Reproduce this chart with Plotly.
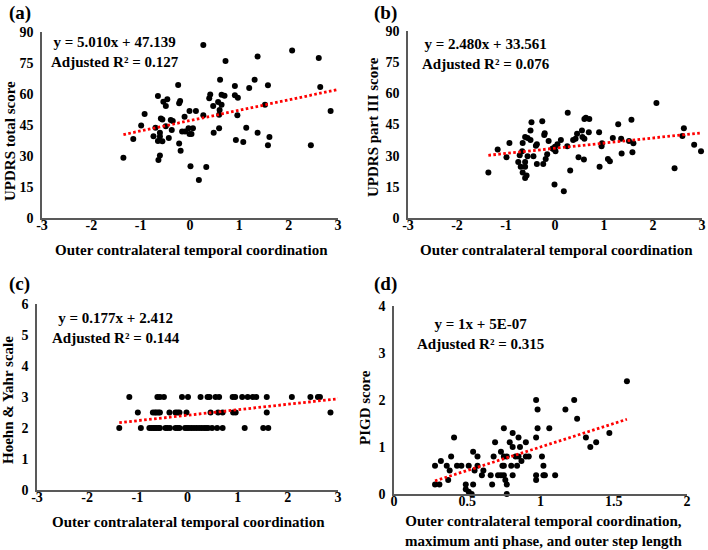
import numpy as np
import plotly.graph_objects as go

W, H = 708, 550
FONT = "Liberation Serif"

# ---------------- data ----------------
# (a) UPDRS total score vs outer contralateral temporal coordination
a_x = [0.27, 2.07, 2.61, 1.37, 0.72, 0.61, 1.31, -0.24, 0.91, 1.20, 1.58, 2.64, 0.41, 0.39, 0.64,
       0.70, 0.91, 0.97, 0.57, 0.64, 0.47, 0.60, 0.59, 1.52, 0.96, 0.27, -0.65, -0.54, -0.46, -0.49,
       -0.22, -0.20, -0.92, -0.59, -0.56, -0.39, -0.35, -0.11, -0.01, 0.12, -0.99, -0.70, -0.49, -0.37,
       -0.16, -0.10, -0.03, 0.06, -0.01, 0.03, -1.15, -0.74, -0.61, -0.61, -0.65, -0.56, -0.43, -0.22,
       -0.19, -1.35, -0.61, -0.64, 0.01, 0.33, 0.18, 0.48, 0.59, 0.93, 1.08, 1.14, 1.37, 1.61, 1.58,
       2.45, 2.85, 3.01]
a_y = [83.7, 81.0, 77.4, 78.1, 76.0, 66.9, 66.9, 64.3, 63.9, 62.9, 64.2, 63.4, 59.8, 57.9, 59.6,
       59.2, 59.4, 58.2, 56.1, 54.8, 54.2, 52.3, 50.0, 54.8, 49.7, 49.7, 59.0, 56.3, 57.4, 54.2,
       55.5, 56.6, 50.3, 48.2, 47.7, 47.4, 46.9, 49.0, 51.8, 51.8, 44.7, 43.7, 44.4, 42.6,
       41.8, 41.8, 43.4, 43.4, 40.6, 40.6, 38.2, 39.5, 41.3, 39.4, 37.3, 37.1, 38.7, 36.0,
       32.6, 29.2, 30.2, 28.1, 25.0, 24.7, 18.4, 41.3, 43.4, 37.7, 36.8, 43.7, 41.3, 39.2, 35.2,
       35.2, 51.8, 45.1]

# (b) UPDRS part III score
b_x = [2.07, 0.26, 0.60, 0.63, 0.70, 1.56, 1.29, -0.48, -0.26, -0.50, -0.61, -0.56, -0.50, -0.37,
       -0.39, -0.22, -0.21, -0.13, 0.12, 0.05, 0.00, -0.03, 0.01, -0.05, 0.25, 0.37, 0.42, 0.45,
       0.55, 0.56, 0.60, 0.69, 0.90, 0.96, 0.95, 1.18, 1.35, 1.51, 1.60, 1.58, 1.36, 1.08, 1.12,
       0.91, 0.48, 0.59, 0.31, -0.01, 0.18, -1.36, -1.17, -0.99, -0.93, -0.75, -0.72, -0.67, -0.70,
       -0.61, -0.61, -0.66, -0.58, -0.61, -0.66, -0.56, -0.44, -0.37, -0.24, -0.19, -0.16, 2.63,
       2.60, 2.84, 2.98, 2.44]
b_y = [55.3, 50.6, 47.7, 48.2, 47.6, 47.3, 45.1, 46.1, 46.6, 42.1, 39.0, 38.5, 37.6, 35.5,
       34.8, 40.0, 40.8, 37.1, 37.6, 35.5, 34.3, 33.2, 32.1, 33.4, 34.5, 37.6, 38.2, 40.5,
       42.1, 39.0, 38.2, 41.3, 41.3, 36.0, 34.5, 38.5, 38.2, 37.1, 36.0, 31.6, 31.0, 28.4, 27.3,
       24.7, 29.2, 28.1, 22.9, 16.1, 12.9, 21.9, 33.0, 29.2, 36.1, 26.9, 30.2, 32.1, 24.7,
       26.9, 24.7, 21.9, 20.5, 19.2, 36.1, 29.7, 29.7, 26.0, 26.0, 28.4, 30.7, 43.2,
       39.5, 35.2, 32.1, 24.0]

# (c) Hoehn & Yahr scale
c_x = [-1.16, -0.60, -0.55, -0.47, -0.11, 0.01, 0.26, 0.40, 0.44, 0.56, 0.63, 0.90, 0.95, 1.09,
       1.20, 1.30, 1.37, 1.58, 2.08, 2.45, 2.60, 2.64, 3.01,
       -0.99, -0.69, -0.65, -0.62, -0.58, -0.55, -0.36, -0.24, -0.20, -0.16, -0.02, 0.46, 0.61,
       0.70, 0.91, 0.96, 1.58, 2.85,
       -1.36, -0.93, -0.76, -0.72, -0.68, -0.65, -0.62, -0.58, -0.55, -0.44, -0.40, -0.35, -0.24,
       -0.20, -0.16, -0.05, -0.01, 0.03, 0.08, 0.13, 0.18, 0.23, 0.28, 0.33, 0.37, 0.41, 0.49,
       0.59, 0.70, 1.14, 1.51, 1.61]
c_y = [3, 3, 3, 3, 3, 3, 3, 3, 3, 3, 3, 3, 3, 3,
       3, 3, 3, 3, 3, 3, 3, 3, 3,
       2.5, 2.5, 2.5, 2.5, 2.5, 2.5, 2.5, 2.5, 2.5, 2.5, 2.5, 2.5, 2.5,
       2.5, 2.5, 2.5, 2.5, 2.5,
       2, 2, 2, 2, 2, 2, 2, 2, 2, 2, 2, 2, 2,
       2, 2, 2, 2, 2, 2, 2, 2, 2, 2, 2, 2, 2, 2,
       2, 2, 2, 2, 2]

# (d) PIGD score vs combined predictor
d_x = [1.59, 0.97, 1.23, 0.98, 1.17, 1.25, 0.75, 0.98, 1.06, 1.47, 1.31, 0.81, 0.85, 0.97, 0.41,
       1.38, 1.34, 0.69, 0.79, 0.90, 0.81, 0.86, 0.54, 0.73, 0.39, 0.57, 0.68, 0.75, 0.77, 0.83,
       0.85, 0.90, 0.92, 1.01, 0.87, 0.32, 0.28, 0.36, 0.43, 0.46, 0.51, 0.57, 0.74, 0.75, 0.80,
       0.84, 1.02, 0.38, 0.55, 0.61, 0.60, 0.66, 0.71, 0.73, 0.75, 0.81, 0.97, 1.02, 1.03, 1.10,
       0.28, 0.31, 0.37, 0.49, 0.49, 0.51, 0.53, 0.54, 0.67, 0.76, 0.77, 0.77, 0.97]
d_y = [2.4, 2.0, 2.0, 1.8, 1.8, 1.6, 1.4, 1.4, 1.4, 1.3, 1.2, 1.3, 1.2, 1.2, 1.2,
       1.1, 1.0, 1.1, 1.1, 1.1, 1.0, 1.0, 0.9, 0.9, 0.8, 0.8, 0.8, 0.8, 0.8, 0.8,
       0.8, 0.8, 0.8, 0.8, 0.7, 0.7, 0.6, 0.6, 0.6, 0.6, 0.6, 0.6, 0.6, 0.6, 0.6,
       0.6, 0.6, 0.5, 0.5, 0.5, 0.4, 0.4, 0.4, 0.4, 0.4, 0.4, 0.4, 0.4, 0.4, 0.4,
       0.2, 0.2, 0.3, 0.2, 0.1, 0.05, 0.0, 0.2, 0.2, 0.3, 0.2, 0.0, 0.3]

# regression lines (as printed)
slopes = [5.010, 2.480, 0.177, 1.0]
intercepts = [47.139, 33.561, 2.412, 5e-07]
eq_texts = ["y = 5.010x + 47.139<br>Adjusted R² = 0.127",
            "y = 2.480x + 33.561<br>Adjusted R² = 0.076",
            "y = 0.177x + 2.412<br>Adjusted R² = 0.144",
            "y = 1x + 5E-07<br>Adjusted R² = 0.315"]
panel_labels = ["(a)", "(b)", "(c)", "(d)"]
y_titles = ["UPDRS total score", "UPDRS part III score", "Hoehn &amp; Yahr scale", "PIGD score"]
x_titles = ["Outer contralateral temporal coordination",
            "Outer contralateral temporal coordination",
            "Outer contralateral temporal coordination",
            "Outer contralateral temporal coordination,<br>maximum anti phase, and outer step length"]

# tick values / labels
coord_ticks = [-3, -2, -1, 0, 1, 2, 3]
coord_labels = ["-3", "-2", "-1", "0", "1", "2", "3"]
d_xticks = [0, 0.5, 1, 1.5, 2]
d_xlabels = ["0", "0.5", "1", "1.5", "2"]
updrs_ticks = [0, 15, 30, 45, 60, 75, 90]
hy_ticks = [0, 1, 2, 3, 4, 5, 6]
pigd_ticks = [0, 1, 2, 3, 4]

x_tick_sets = [(coord_ticks, coord_labels), (coord_ticks, coord_labels),
               (coord_ticks, coord_labels), (d_xticks, d_xlabels)]
y_tick_sets = [updrs_ticks, updrs_ticks, hy_ticks, pigd_ticks]

assert len(a_x) == len(a_y) and len(b_x) == len(b_y) and len(c_x) == len(c_y) and len(d_x) == len(d_y)
xs_all = [a_x, b_x, c_x, d_x]
ys_all = [a_y, b_y, c_y, d_y]

# ---------------- layout geometry (pixels) ----------------
plot_boxes = [(42, 338, 32, 218), (408, 702, 31, 218), (37, 338, 304, 490), (394, 687, 306, 494)]
label_pos = [(7, 13), (372, 13), (7, 284), (372, 284)]
eq_pos = [(115, 52), (486, 54), (116, 328), (480, 334)]
ytitle_pos = [(10, 141), (373, 127), (8, 400), (365, 408)]
xtitle_pos = [(191, 250), (556, 250), (188, 522), (543, 531)]


def px(x):
    return x / W


def py(y):
    return 1 - y / H


def bold(s):
    return "<b>" + s + "</b>"


fig = go.Figure()
layout = dict(width=W, height=H, margin=dict(l=0, r=0, t=0, b=0, pad=0), autosize=False,
              paper_bgcolor="white", plot_bgcolor="white", showlegend=False,
              font=dict(family=FONT, color="#000000"))

annotations = []
for i in range(4):
    k = "" if i == 0 else str(i + 1)
    xa, ya = "x" + k, "y" + k
    x0, x1, y0, y1 = plot_boxes[i]
    axis_common = dict(showline=True, linecolor="#595959", linewidth=1.6, showgrid=False,
                       zeroline=False, ticks="", fixedrange=True, automargin=False,
                       tickfont=dict(family=FONT, size=14, color="#000000", weight="bold"))
    xt, xl = x_tick_sets[i]
    yt = y_tick_sets[i]
    layout["xaxis" + k] = dict(domain=[px(x0), px(x1)], range=[xt[0], xt[-1]],
                               tickmode="array", tickvals=xt, ticktext=[bold(s) for s in xl],
                               anchor=ya, ticklabelstandoff=-6, **axis_common)
    layout["yaxis" + k] = dict(domain=[py(y1), py(y0)], range=[yt[0], yt[-1]],
                               tickmode="array", tickvals=yt, ticktext=[bold(str(v)) for v in yt],
                               anchor=xa, ticklabelstandoff=4, **axis_common)

    xv = np.array(xs_all[i])
    yv = np.array(ys_all[i])
    fig.add_trace(go.Scatter(x=xv, y=yv, mode="markers", xaxis=xa, yaxis=ya, cliponaxis=False,
                             marker=dict(color="black", size=6)))
    lx = np.array([xv.min(), xv.max()])
    ly = slopes[i] * lx + intercepts[i]
    fig.add_trace(go.Scatter(x=lx, y=ly, mode="lines", xaxis=xa, yaxis=ya,
                             line=dict(color="#FF0000", width=2.8, dash="2.6px,2.4px")))

    annotations.append(dict(text=bold(panel_labels[i]), x=px(label_pos[i][0]), y=py(label_pos[i][1]),
                            xref="paper", yref="paper", xanchor="left", yanchor="middle",
                            showarrow=False, font=dict(family=FONT, size=19, color="black")))
    annotations.append(dict(text=bold(eq_texts[i]), x=px(eq_pos[i][0]), y=py(eq_pos[i][1]),
                            xref="paper", yref="paper", xanchor="center", yanchor="middle",
                            align="center", showarrow=False,
                            font=dict(family=FONT, size=15, color="black")))
    annotations.append(dict(text=bold(y_titles[i]), x=px(ytitle_pos[i][0]), y=py(ytitle_pos[i][1]),
                            xref="paper", yref="paper", xanchor="center", yanchor="middle",
                            textangle=-90, showarrow=False,
                            font=dict(family=FONT, size=15, color="black")))
    annotations.append(dict(text=bold(x_titles[i]), x=px(xtitle_pos[i][0]), y=py(xtitle_pos[i][1]),
                            xref="paper", yref="paper", xanchor="center", yanchor="middle",
                            align="center", showarrow=False,
                            font=dict(family=FONT, size=15, color="black")))

layout["annotations"] = annotations
fig.update_layout(**layout)
fig.write_html("out.html", config={"displayModeBar": False, "staticPlot": True},
               post_script="document.body.style.margin='0';document.body.style.padding='0';"
                           "document.body.style.overflow='hidden';")
